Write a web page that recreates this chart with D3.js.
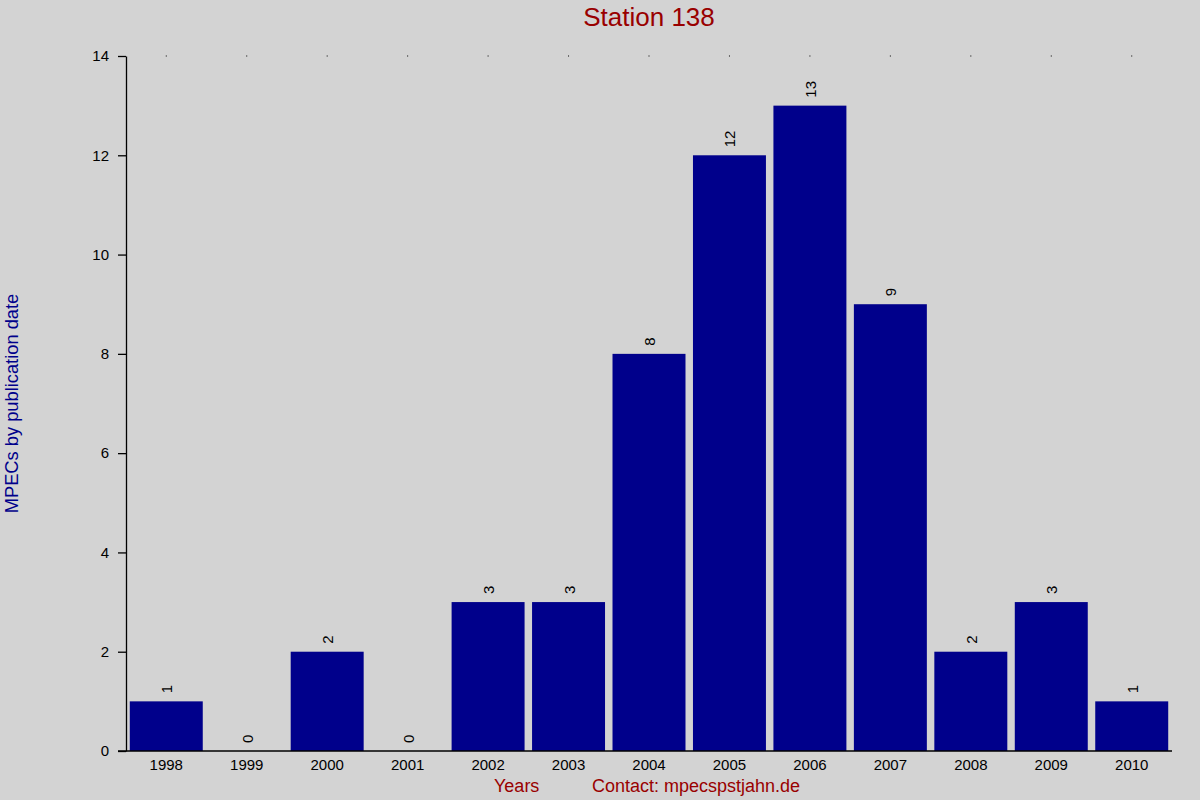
<!DOCTYPE html>
<html><head><meta charset="utf-8">
<script src="https://cdn.jsdelivr.net/npm/d3@7"></script>
<style>
html,body{margin:0;padding:0;background:#d3d3d3;}
svg{display:block;font-family:"Liberation Sans",Arial,sans-serif;}
</style></head>
<body>
<svg id="chart" width="1200" height="800"></svg>
<script>
const years = ["1998","1999","2000","2001","2002","2003","2004","2005","2006","2007","2008","2009","2010"];
const counts = [1,0,2,0,3,3,8,12,13,9,2,3,1];
const yTicks = [0,2,4,6,8,10,12,14];
const title = "Station 138";
const yTitle = "MPECs by publication date";
const xTitle = "Years";
const contact = "Contact: mpecspstjahn.de";

const svg = d3.select("#chart");
svg.append("rect").attr("width",1200).attr("height",800).attr("fill","#d3d3d3");
const mLeft = 126, mRight = 1172, mTop = 56, mBottom = 751;
const x = d3.scaleBand().domain(years).range([mLeft,mRight]).paddingInner(0.093).paddingOuter(0.047);
const y = d3.scaleLinear().domain([0,14]).range([mBottom,mTop]);

// bars
svg.selectAll("rect.bar").data(counts).enter().append("rect")
  .attr("class","bar")
  .attr("x",(d,i)=>x(years[i]))
  .attr("width",x.bandwidth())
  .attr("y",d=>y(d))
  .attr("height",d=>mBottom-y(d))
  .attr("fill","#00008b");

// value labels
svg.selectAll("text.val").data(counts).enter().append("text")
  .attr("class","val")
  .attr("transform",(d,i)=>`translate(${x(years[i])+x.bandwidth()/2+6},${y(d)-8}) rotate(-90)`)
  .attr("text-anchor","start")
  .attr("font-size",15)
  .attr("fill","#000")
  .text(d=>d);

// y axis
const yAxis = d3.axisLeft(y).tickValues(yTicks).tickSize(8).tickPadding(9).tickSizeOuter(0);
const gy = svg.append("g").attr("transform",`translate(${mLeft},0)`).call(yAxis);
gy.select(".domain").attr("stroke","#000").attr("stroke-width",1.3);
gy.selectAll(".tick line").attr("stroke","#000").attr("stroke-width",1.3);
gy.selectAll(".tick text").attr("font-size",15).attr("fill","#000").attr("font-family","Liberation Sans, Arial, sans-serif");

// x axis
const xAxis = d3.axisBottom(x).tickSize(0).tickPadding(8).tickSizeOuter(0);
const gx = svg.append("g").attr("transform",`translate(0,${mBottom})`).call(xAxis);
gx.select(".domain").attr("stroke","#000").attr("stroke-width",1.3).attr("d",`M${mLeft-8},0H${mRight}`);
gx.selectAll(".tick text").attr("font-size",15).attr("fill","#000").attr("font-family","Liberation Sans, Arial, sans-serif");

// top dots
svg.selectAll("rect.dot").data(years).enter().append("rect")
  .attr("class","dot")
  .attr("x",d=>x(d)+x.bandwidth()/2-0.5)
  .attr("y",mTop-0.5)
  .attr("width",1).attr("height",1)
  .attr("fill","#000");

// titles
svg.append("text").attr("x",649).attr("y",26).attr("text-anchor","middle")
  .attr("font-size",26).attr("fill","#990000").text(title);
svg.append("text").attr("transform",`translate(18,${(mTop+mBottom)/2}) rotate(-90)`)
  .attr("text-anchor","middle").attr("font-size",18.3).attr("fill","#00008b").text(yTitle);
svg.append("text").attr("x",494).attr("y",792).attr("font-size",18).attr("fill","#990000").text(xTitle);
svg.append("text").attr("x",592).attr("y",792).attr("font-size",18).attr("fill","#990000").text(contact);
</script>
</body></html>
